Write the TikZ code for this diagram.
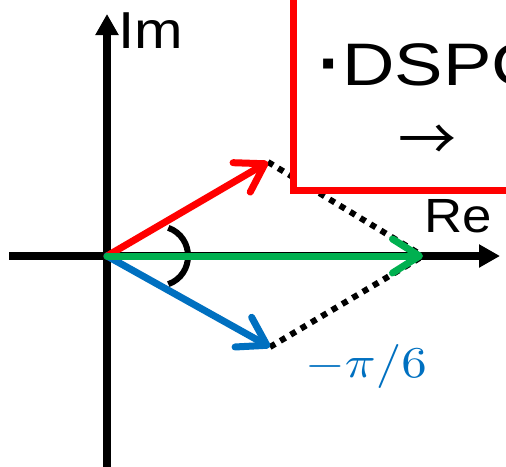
\documentclass[tikz,border=0pt]{standalone}
\usepackage{fontspec}
\setmainfont{Liberation Sans}
\newfontfamily\jpfont{Noto Sans CJK JP}
\usetikzlibrary{arrows.meta}
\definecolor{phred}{RGB}{255,0,0}
\definecolor{phblue}{RGB}{0,112,192}
\definecolor{phgreen}{RGB}{0,176,80}

\begin{document}
\begin{tikzpicture}[x=1pt,y=-1pt,
    axis/.style={line width=8pt,-{Triangle[length=21pt,width=22pt]}},
    phasor/.style={line width=7pt,line cap=round,
      -{Straight Barb[length=27pt,width=34pt,line cap=round,line join=round]}},
    sumline/.style={line width=6pt,dash pattern=on 6pt off 6pt},
    lbl/.style={inner sep=0pt,anchor=base west}]
    \useasboundingbox (0,0) rectangle (506,466);
    \clip (0,0) rectangle (506,466);
    \coordinate (O) at (107,256);
    \coordinate (xl) at (9,256);
    \coordinate (xr) at (500,256);
    \coordinate (yb) at (107,470);
    \coordinate (yt) at (107,14);
    \coordinate (A) at (268,162);
    \coordinate (B) at (270,347);
    \coordinate (S) at (423,256);
    \draw[axis] (xl) -- (xr);
    \draw[axis] (yb) -- (yt);
    % angle mark
    \draw[line width=6pt] (168.3,227.8) .. controls (194.6,237.4) and (194.6,274.6) .. (168.3,284.2);
    \draw[sumline] (A) -- (S);
    \draw[sumline] (B) -- (S);
    \draw[phasor,phred] (O) -- (A);
    \draw[phasor,phblue] (O) -- (B);
    \draw[phasor,phgreen] (O) -- (S);
    \draw[phred,line width=7pt,fill=white] (293.5,190) rectangle (540,-30);
    \node[lbl,font=\fontsize{60}{60}\selectfont] (dspc) at (321,85)
        {\raisebox{9pt}{\fontsize{40}{40}\selectfont ▪}\hspace{7pt}\scalebox{1.21}[1]{DSPC}};
    \node[font=\jpfont\fontsize{58}{58}\selectfont,inner sep=0pt] (to) at (427,143) {→};
    \node[lbl,font=\fontsize{52}{52}\selectfont] (im) at (118.5,48) {\scalebox{1.12}[1]{Im}};
    \node[lbl,font=\fontsize{48}{48}\selectfont] (re) at (424,232) {\scalebox{1.1}[1]{Re}};
    \node[lbl,text=phblue] (ang) at (305,377) {\scalebox{5.1}[4.4]{$-\pi/6$}};
\end{tikzpicture}
\end{document}
